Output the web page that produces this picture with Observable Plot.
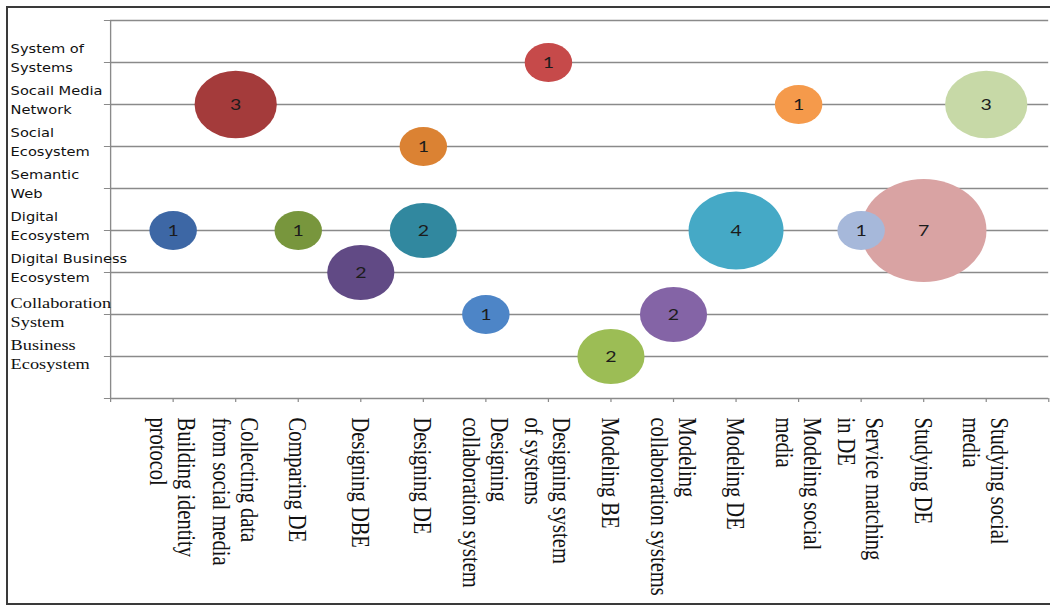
<!DOCTYPE html>
<html>
<head>
<meta charset="utf-8">
<script src="https://cdn.jsdelivr.net/npm/d3@7"></script>
<script src="https://cdn.jsdelivr.net/npm/@observablehq/plot@0.6"></script>
<style>
  html, body { margin: 0; padding: 0; background: #fff; }
  #wrap { position: relative; width: 1050px; height: 610px; overflow: hidden; }
  #border { position: absolute; left: 6px; top: 6px; width: 1100px; height: 599px;
            border: 2px solid #3a3a3a; pointer-events: none; box-sizing: border-box; }
</style>
</head>
<body>
<div id="wrap"><div id="border"></div></div>
<script>
// Research topics (x axis, left to right)
const topics = [
  "Building identity\nprotocol",
  "Collecting data\nfrom social media",
  "Comparing DE",
  "Designing DBE",
  "Designing DE",
  "Designing\ncollaboration system",
  "Designing system\nof systems",
  "Modeling BE",
  "Modeling\ncollaboration systems",
  "Modeling DE",
  "Modeling social\nmedia",
  "Service matching\nin DE",
  "Studying DE",
  "Studying social\nmedia"
];
// Fields (y axis, bottom to top)
const fields = [
  "Business\nEcosystem",
  "Collaboration\nSystem",
  "Digital Business\nEcosystem",
  "Digital\nEcosystem",
  "Semantic\nWeb",
  "Social\nEcosystem",
  "Socail Media\nNetwork",
  "System of\nSystems"
];
// Bubbles: topic, field, count
const bubbleTopic = [
  "Building identity\nprotocol", "Collecting data\nfrom social media", "Comparing DE",
  "Designing DBE", "Designing DE", "Designing DE", "Designing\ncollaboration system",
  "Designing system\nof systems", "Modeling BE", "Modeling\ncollaboration systems",
  "Modeling DE", "Modeling social\nmedia", "Service matching\nin DE", "Studying DE",
  "Studying social\nmedia"
];
const bubbleField = [
  "Digital\nEcosystem", "Socail Media\nNetwork", "Digital\nEcosystem",
  "Digital Business\nEcosystem", "Digital\nEcosystem", "Social\nEcosystem", "Collaboration\nSystem",
  "System of\nSystems", "Business\nEcosystem", "Collaboration\nSystem",
  "Digital\nEcosystem", "Socail Media\nNetwork", "Digital\nEcosystem", "Digital\nEcosystem",
  "Socail Media\nNetwork"
];
const bubbleCount = [1, 3, 1, 2, 2, 1, 1, 1, 2, 2, 4, 1, 1, 7, 3];
const bubblePalette = [
  "#3d67a5", "#a43b3b", "#78963d", "#614a85", "#31889f", "#db8233", "#4d85c7",
  "#c64a4a", "#9cbd55", "#8464a6", "#45a9c6", "#f59a4b", "#a6b8da", "#d9a3a3", "#c7d9a7"
];

const bubbles = bubbleCount.map((c, i) => ({
  xi: topics.indexOf(bubbleTopic[i]) + 1,
  yi: fields.indexOf(bubbleField[i]) + 1,
  count: c,
  color: bubblePalette[i]
}));
const topicRows = topics.map((t, i) => ({t, xi: i + 1}));
const fieldRows = fields.map((f, i) => ({f, yi: i + 1}));

// The reference picture is horizontally stretched; draw at a narrower width then stretch.
const W = 1050, H = 610, W0 = 861;
const LEFT = 90.2;
const gridColor = "#8a8a8a";

const svg = Plot.plot({
  width: W0,
  height: H,
  marginLeft: LEFT,
  marginRight: 1.5,
  marginTop: 20,
  marginBottom: 212,
  x: {domain: [0, 15], ticks: d3.range(0, 16), tickSize: 4, tickFormat: () => "", label: null},
  y: {domain: [0, 9], ticks: d3.range(0, 10), tickSize: 5, tickFormat: () => "", label: null},
  r: {type: "sqrt", domain: [0, 7], range: [0, 51.5]},
  color: {type: "identity"},
  marks: [
    Plot.ruleY(d3.range(1, 10), {x1: 0, x2: 15, stroke: gridColor, strokeWidth: 1.3}),
    Plot.ruleY([0], {x1: 0, x2: 15, stroke: gridColor, strokeWidth: 1.3}),
    Plot.ruleX([0], {y1: 0, y2: 9, stroke: gridColor, strokeWidth: 1.1}),
    Plot.dot(bubbles, {x: "xi", y: "yi", r: "count", fill: "color", stroke: "none"}),
    Plot.text(bubbles, {x: "xi", y: "yi", text: "count", fill: "#1c1c1c",
      fontSize: 16, fontFamily: "Lato", lineAnchor: "middle"}),
    // y labels (sans)
    Plot.text(fieldRows.filter(d => d.yi > 2), {y: "yi", text: "f", frameAnchor: "left",
      dx: 8.2 - LEFT, dy: -6, textAnchor: "start", lineAnchor: "middle",
      fontSize: 12, lineHeight: 1.55, fontFamily: "DejaVu Sans", fill: "#111"}),
    // y labels (serif)
    Plot.text(fieldRows.filter(d => d.yi <= 2), {y: "yi", text: "f", frameAnchor: "left",
      dx: 8.2 - LEFT, dy: -3, textAnchor: "start", lineAnchor: "middle",
      fontSize: 15, lineHeight: 1.27, fontFamily: "Liberation Serif, Times New Roman, serif", fill: "#111"}),
    // x labels (rotated serif)
    Plot.text(topicRows, {x: "xi", text: "t", frameAnchor: "bottom", dy: 19,
      rotate: 90, textAnchor: "start", lineAnchor: "middle",
      fontSize: 20.5, lineHeight: 1.12, fontFamily: "Liberation Serif, Times New Roman, serif", fill: "#111"})
  ]
});

svg.setAttribute("width", W);
svg.setAttribute("height", H);
svg.setAttribute("preserveAspectRatio", "none");
svg.style.width = W + "px";
svg.style.height = H + "px";
svg.style.maxWidth = "none";
svg.style.display = "block";
svg.style.color = gridColor;
document.getElementById("wrap").prepend(svg);
</script>
</body>
</html>
